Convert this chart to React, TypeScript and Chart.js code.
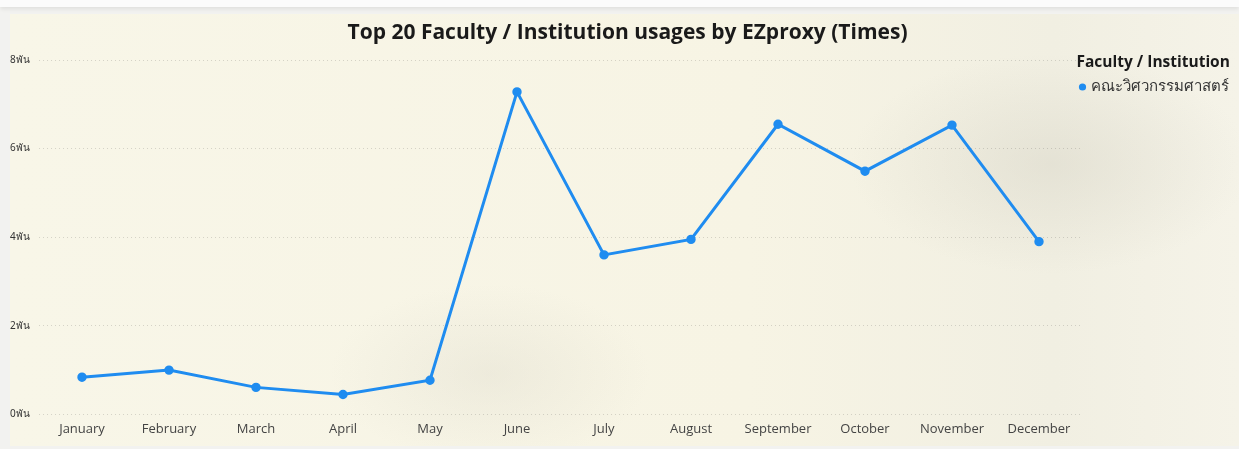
import React, { useEffect, useRef } from "react";
import { Chart, registerables } from "chart.js";

Chart.register(...registerables);

const months = ["January", "February", "March", "April", "May", "June", "July", "August", "September", "October", "November", "December"];
const seriesName = "คณะวิศวกรรมศาสตร์";
const usages = [840, 1000, 610, 450, 770, 7280, 3600, 3950, 6550, 5490, 6530, 3900];
const yTicks = [0, 2000, 4000, 6000, 8000];
const titleText = "Top 20 Faculty / Institution usages by EZproxy (Times)";
const legendTitle = "Faculty / Institution";
const lineColor = "#1F8CF0";

const headerAndLegend = {
  id: "headerAndLegend",
  afterDraw(chart: any) {
    const ctx = chart.ctx;
    const ds = chart.data.datasets[0];
    ctx.save();
    ctx.textBaseline = "middle";
    // title, centred on the whole visual
    ctx.textAlign = "center";
    ctx.fillStyle = "#1a1a1a";
    ctx.font = "bold 21px 'Open Sans', 'Noto Sans', sans-serif";
    ctx.fillText(titleText, chart.width / 2 + 3, 19);
    // legend at right
    const x0 = chart.chartArea.right - 6;
    const y0 = chart.chartArea.top + 3;
    ctx.textAlign = "left";
    ctx.font = "bold 15.5px 'Open Sans', 'Noto Sans', sans-serif";
    ctx.fillText(legendTitle, x0, y0);
    ctx.beginPath();
    ctx.fillStyle = ds.borderColor;
    ctx.arc(x0 + 6, y0 + 24, 3.6, 0, Math.PI * 2);
    ctx.fill();
    ctx.fillStyle = "#333";
    ctx.font = "15px 'Noto Sans', 'Open Sans', sans-serif";
    ctx.fillText(ds.label, x0 + 14, y0 + 24);
    ctx.restore();
  },
};

export default function App() {
  const ref = useRef<HTMLCanvasElement | null>(null);
  useEffect(() => {
    document.body.style.margin = "0";
    const ctx = ref.current!;
    const chart = new Chart(ctx, {
      type: "line",
      data: {
        labels: months,
        datasets: [
          {
            label: seriesName,
            data: usages,
            borderColor: lineColor,
            backgroundColor: lineColor,
            borderWidth: 3,
            pointRadius: 3.2,
            pointHoverRadius: 3.2,
            tension: 0,
          },
        ],
      },
      plugins: [headerAndLegend],
      options: {
        animation: false,
        responsive: false,
        maintainAspectRatio: false,
        layout: { padding: { left: 0, right: 156.5, top: 46, bottom: 2 } },
        plugins: {
          title: { display: false },
          legend: { display: false },
          tooltip: { enabled: false },
        },
        scales: {
          x: {
            offset: true,
            grid: { display: false, drawTicks: false },
            border: { display: false },
            ticks: {
              color: "#444",
              padding: 7,
              maxRotation: 0,
              autoSkip: false,
              font: { family: "'Open Sans', 'Noto Sans', sans-serif", size: 13 },
            },
          },
          y: {
            min: 0,
            max: 8000,
            afterBuildTicks: (scale: any) => {
              scale.ticks = yTicks.map((v) => ({ value: v }));
            },
            afterFit: (scale: any) => {
              scale.width = 28.5;
            },
            grid: { color: "rgba(0,0,0,0.14)", drawTicks: false, lineWidth: 1 },
            border: { display: false, dash: [1, 3] },
            ticks: {
              color: "#333",
              crossAlign: "far",
              padding: 4,
              font: { family: "'Noto Sans', 'Open Sans', sans-serif", size: 10 },
              callback: (v: any) => `${Number(v) / 1000}พัน`,
            },
          },
        },
      },
    });
    return () => chart.destroy();
  }, []);

  return (
    <div style={{ position: "absolute", left: 0, top: 0, width: 1239, height: 449, background: "#f2f2f0", overflow: "hidden" }}>
      <div style={{ position: "absolute", left: 0, top: 0, width: 1239, height: 7, background: "#fbfbfb", boxShadow: "0 2px 4px rgba(0,0,0,0.08)" }} />
      <div
        style={{
          position: "absolute",
          left: 10,
          top: 14,
          width: 1229,
          height: 432,
          background:
            "radial-gradient(ellipse 200px 110px at 1040px 150px, rgba(205,202,188,0.35), rgba(205,202,188,0) 100%), radial-gradient(ellipse 160px 90px at 480px 360px, rgba(215,212,198,0.3), rgba(215,212,198,0) 100%), linear-gradient(90deg, #f8f6e8 0%, #f7f4e4 60%, #f1efe2 85%, #f5f3e8 100%)",
        }}
      >
        <canvas ref={ref} width={1229} height={432} style={{ display: "block" }} />
      </div>
    </div>
  );
}
